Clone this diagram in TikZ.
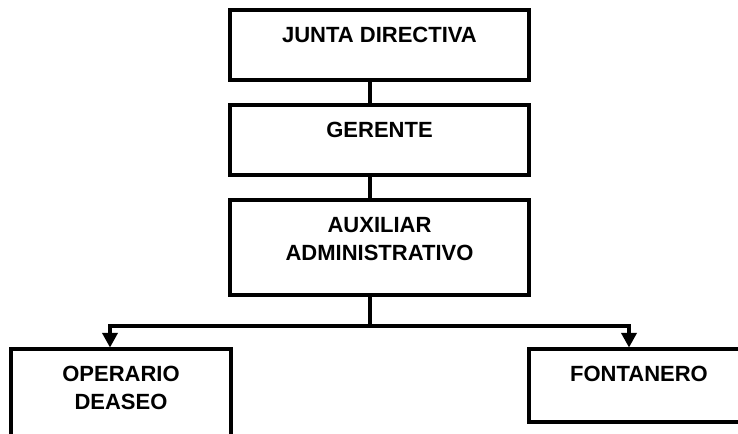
\documentclass[tikz,border=0pt]{standalone}
\usepackage{fontspec}
\setmainfont{Liberation Sans}
\usetikzlibrary{arrows.meta}
\newcommand{\boxtxt}[3]{\parbox[t][#2][t]{#1}{\centering\vspace*{12.8pt}#3\par}}
\begin{document}
\begin{tikzpicture}[x=0.75pt,y=-0.75pt,
  box/.style={draw, line width=2.3pt, inner sep=0pt, fill=white,
    font=\bfseries\fontsize{16.5}{21}\selectfont},
  link/.style={line width=2.3pt},
  arr/.style={link, -{Triangle[width=11.5pt,length=11pt]}}]
\useasboundingbox (0,0) rectangle (738,434);
\node[box] (j) at (379.5,45)    {\boxtxt{224.25pt}{52.5pt}{JUNTA DIRECTIVA}};
\node[box] (g) at (379.5,140)   {\boxtxt{224.25pt}{52.5pt}{GERENTE}};
\node[box] (a) at (379.5,247.5) {\boxtxt{224.25pt}{71.25pt}{AUXILIAR\\ADMINISTRATIVO}};
\node[box] (o) at (121,409.5)   {\boxtxt{165pt}{90.75pt}{OPERARIO\\DEASEO}};
\node[box] (f) at (639,385.5)   {\boxtxt{165pt}{54.75pt}{FONTANERO}};
\coordinate (c) at (370,0);
\coordinate (ol) at (110,0);
\coordinate (fr) at (629,0);
\coordinate (h) at (370,326);
\draw[link] (j.south -| c) -- (g.north -| c);
\draw[link] (g.south -| c) -- (a.north -| c);
\draw[link] (a.south -| c) -- (h);
\draw[arr] (h) -| (o.north -| ol);
\draw[arr] (h) -| (f.north -| fr);
\end{tikzpicture}
\end{document}
